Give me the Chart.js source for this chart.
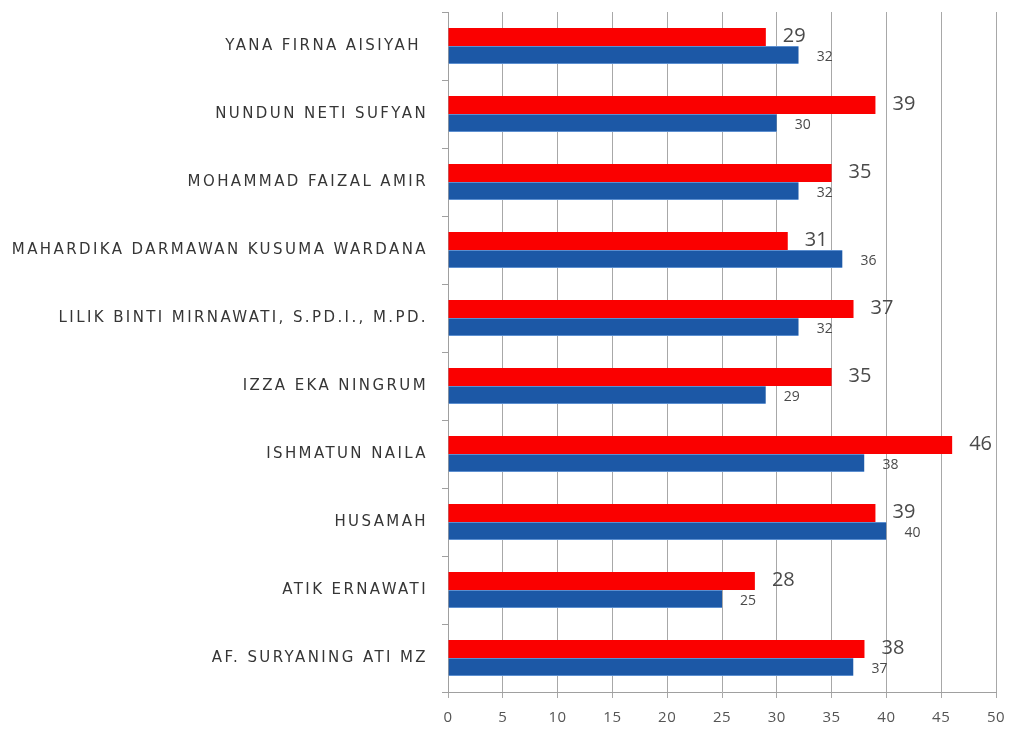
<!DOCTYPE html>
<html>
<head>
<meta charset="utf-8">
<script src="https://cdn.jsdelivr.net/npm/chart.js@4"></script>
<style>
  html, body { margin: 0; padding: 0; background: #fff; }
  #wrap { width: 1016px; height: 731px; }
</style>
</head>
<body>
<div id="wrap"><canvas id="chart" width="1016" height="731"></canvas></div>
<script>
const names = [
  'YANA FIRNA AISIYAH ',
  'NUNDUN NETI SUFYAN',
  'MOHAMMAD FAIZAL AMIR',
  'MAHARDIKA DARMAWAN KUSUMA WARDANA',
  'LILIK BINTI MIRNAWATI, S.PD.I., M.PD.',
  'IZZA EKA NINGRUM',
  'ISHMATUN NAILA',
  'HUSAMAH',
  'ATIK ERNAWATI',
  'AF. SURYANING ATI MZ'
];
const redValues = [29, 39, 35, 31, 37, 35, 46, 39, 28, 38];
const blueValues = [32, 30, 32, 36, 32, 29, 38, 40, 25, 37];
const xTicks = [0, 5, 10, 15, 20, 25, 30, 35, 40, 45, 50];

// draw a scale's labels with some letter spacing
function spaced(scale, px) {
  if (scale._spaced) return;
  const orig = scale.drawLabels.bind(scale);
  scale.drawLabels = function (area) {
    const c = this.ctx;
    const prev = c.letterSpacing;
    c.letterSpacing = px;
    orig(area);
    c.letterSpacing = prev;
  };
  scale._spaced = true;
}

// value labels right of each bar
const valueLabels = {
  id: 'valueLabels',
  afterDatasetsDraw(chart) {
    const ctx = chart.ctx;
    ctx.save();
    ctx.fillStyle = '#4a4a4a';
    ctx.textBaseline = 'middle';
    ctx.textAlign = 'left';
    chart.data.datasets.forEach((ds, i) => {
      const meta = chart.getDatasetMeta(i);
      ctx.font = i === 0 ? '20px "Open Sans"' : '14px "Open Sans"';
      meta.data.forEach((bar, j) => {
        const dy = i === 0 ? -1 : 2;
        ctx.fillText(String(ds.data[j]), bar.x + (i === 0 ? 17 : 18), bar.y + dy);
      });
    });
    ctx.restore();
  }
};

new Chart(document.getElementById('chart'), {
  type: 'bar',
  data: {
    labels: names,
    datasets: [
      {
        data: redValues,
        backgroundColor: '#fa0000',
        borderWidth: 0,
        barPercentage: 1,
        categoryPercentage: 0.53
      },
      {
        data: blueValues,
        backgroundColor: '#1c58a6',
        borderColor: '#5c8fd0',
        borderWidth: { top: 1, bottom: 1, left: 0, right: 0 },
        barPercentage: 1,
        categoryPercentage: 0.53
      }
    ]
  },
  options: {
    indexAxis: 'y',
    responsive: false,
    animation: false,
    layout: { padding: { top: 12, right: 20, left: 0, bottom: 0 } },
    plugins: {
      legend: { display: false },
      tooltip: { enabled: false }
    },
    scales: {
      x: {
        min: 0,
        max: 50,
        afterBuildTicks(scale) { scale.ticks = xTicks.map(v => ({ value: v })); },
        afterFit(scale) {
          scale.height = 39;
          scale.paddingLeft = 0;
          scale.paddingRight = 0;
          spaced(scale, '0.5px');
        },
        grid: { color: '#a8a8a8', lineWidth: 1, tickLength: 6, drawTicks: true },
        border: { color: '#a0a0a0' },
        ticks: { color: '#555', font: { family: 'Open Sans', size: 15 }, padding: 11 }
      },
      y: {
        afterFit(scale) {
          scale.width = 448;
          scale.paddingTop = 0;
          scale.paddingBottom = 0;
          spaced(scale, '2.4px');
        },
        grid: { drawOnChartArea: false, drawTicks: true, tickLength: 6, color: '#a0a0a0', offset: true },
        border: { color: '#a0a0a0' },
        ticks: { color: '#363636', font: { family: 'DejaVu Sans', size: 15 }, padding: 14, autoSkip: false }
      }
    }
  },
  plugins: [valueLabels]
});
</script>
</body>
</html>
